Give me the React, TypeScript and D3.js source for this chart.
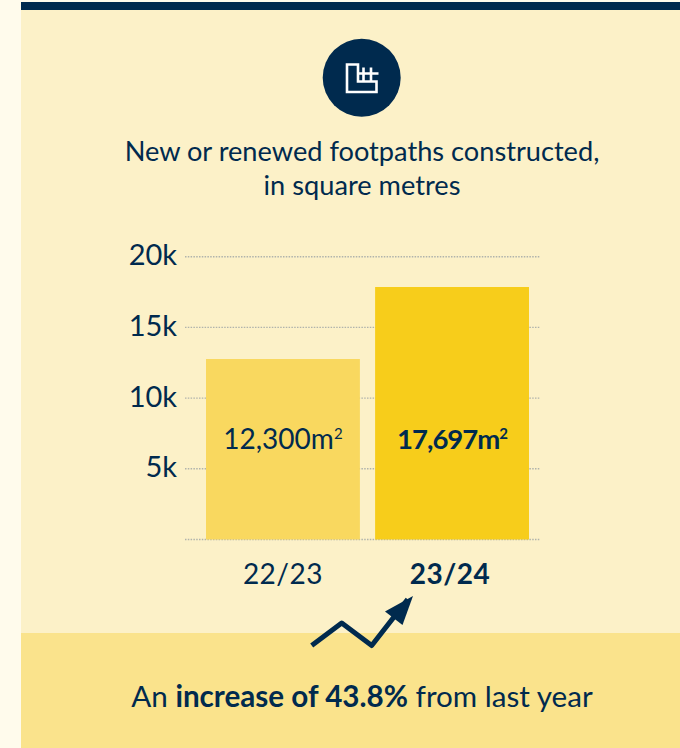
import * as d3 from "d3";

const years = ["22/23", "23/24"];
// bar heights as drawn in the picture (they sit a bit above the printed figures)
const values = [12765, 17857];
const valueLabels = ["12,300", "17,697"];
const barColors = ["#F9D85F", "#F7CD1B"];
const yTicks = [5000, 10000, 15000, 20000];
const trendPoints: [number, number][] = [
  [0, 0],
  [1, 1],
  [2, 0],
  [3.2, 2.05],
];

const navy = "#002A4E";
const font = "Lato, sans-serif";

const x = d3.scaleBand<string>().domain(years).range([206, 529]).paddingInner(0.09).paddingOuter(0);
const y = d3.scaleLinear().domain([0, 20000]).range([539.5, 256.7]);

const trendX = d3.scaleLinear().domain([0, 1]).range([311.7, 341.7]);
const trendY = d3.scaleLinear().domain([0, 1]).range([645.5, 623]);
const trendLine = d3
  .line<[number, number]>()
  .x((d) => trendX(d[0]))
  .y((d) => trendY(d[1]));

export default function App() {
  return (
    <svg
      width={680}
      height={748}
      style={{ position: "absolute", left: 0, top: 0, display: "block" }}
      fontFamily={font}
    >
      <rect width={680} height={748} fill="#FFFBEC" />
      <rect x={21} y={10} width={659} height={623} fill="#FCF1C8" />
      <rect x={21} y={633} width={659} height={115} fill="#FAE38C" />
      <rect x={21} y={2} width={659} height={8} fill={navy} />

      {/* footpath icon */}
      <circle cx={361.7} cy={77.7} r={39} fill={navy} />
      <g fill="none" stroke="#fff" strokeWidth={2.6}>
        <path d="M347 64.5 H358 V81.5 H376.5 V92 H347 Z" />
        <path d="M358 73.5 H378.5 M363.5 67.5 V81.5 M371 67.5 V81.5" />
      </g>

      <g fill={navy} fontSize={27.2} textAnchor="middle">
        <text x={362} y={161}>New or renewed footpaths constructed,</text>
        <text x={362} y={195}>in square metres</text>
      </g>

      {/* grid + y axis */}
      {[0, ...yTicks].map((t) => (
        <line
          key={t}
          x1={185}
          x2={540}
          y1={y(t)}
          y2={y(t)}
          stroke="#B0B3AC"
          strokeWidth={1.4}
          strokeDasharray="1.5 1.3"
        />
      ))}
      {yTicks.map((t) => (
        <text key={t} x={177} y={y(t) + 8.5} fill={navy} fontSize={29} textAnchor="end">
          {t / 1000}k
        </text>
      ))}

      {/* bars */}
      {years.map((year, i) => (
        <g key={year}>
          <rect
            x={x(year)}
            y={y(values[i])}
            width={x.bandwidth()}
            height={y(0) - y(values[i])}
            fill={barColors[i]}
          />
          <text
            x={x(year)! + x.bandwidth() / 2}
            y={449}
            fill={navy}
            fontSize={i === 1 ? 27.5 : 28}
            letterSpacing={i === 1 ? -1 : 0}
            fontWeight={i === 1 ? 700 : 400}
            textAnchor="middle"
          >
            {valueLabels[i]}m<tspan fontSize={15} dy={-10}>2</tspan>
          </text>
          <text
            x={x(year)! + x.bandwidth() / 2 - (i === 1 ? 2 : 0)}
            y={584}
            fill={navy}
            fontSize={28}
            letterSpacing={0.5}
            fontWeight={i === 1 ? 700 : 400}
            textAnchor="middle"
          >
            {year}
          </text>
        </g>
      ))}

      {/* trend arrow */}
      <path d={trendLine(trendPoints)!} fill="none" stroke={navy} strokeWidth={5} strokeLinejoin="round" />
      <path d="M385 611.5 L413 596 L402.5 625 Z" fill={navy} />

      <text x={362} y={707} fill={navy} fontSize={29.6} textAnchor="middle">
        An <tspan fontWeight={700}>increase of 43.8%</tspan> from last year
      </text>
    </svg>
  );
}
